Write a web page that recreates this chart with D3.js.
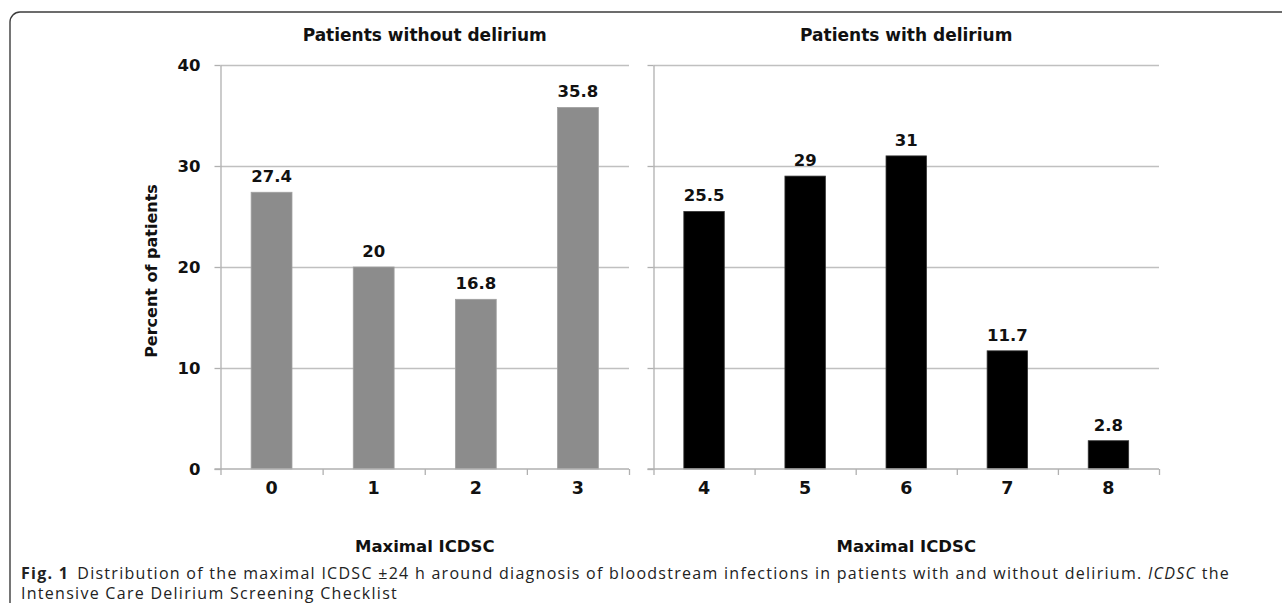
<!DOCTYPE html>
<html>
<head>
<meta charset="utf-8">
<script src="https://cdn.jsdelivr.net/npm/d3@7"></script>
<style>
  body { margin: 0; background: #fff; }
  svg { display: block; }
</style>
</head>
<body>
<script>
"use strict";
var svg_width = 1282;
var svg_height = 603;

// ---data
var without_categories = ["0", "1", "2", "3"];
var without_values = [27.4, 20, 16.8, 35.8];
var with_categories = ["4", "5", "6", "7", "8"];
var with_values = [25.5, 29, 31, 11.7, 2.8];
var y_ticks = [0, 10, 20, 30, 40];
var panel_titles = ["Patients without delirium", "Patients with delirium"];
var x_title = "Maximal ICDSC";
var y_title = "Percent of patients";

var svg = d3.select("body")
    .append("svg")
    .attr("width", svg_width)
    .attr("height", svg_height);

// ---frame with rounded top-left corner, runs off the right and bottom edges
svg.append("path")
    .attr("d", "M10,640 V22 A10,10 0 0 1 20,12 H1300")
    .attr("fill", "none")
    .attr("stroke", "#3c3c3c")
    .attr("stroke-width", 1.4);

var yscale = d3.scaleLinear()
    .domain([0, 40])
    .range([469, 65]);

var label_font = "'DejaVu Sans', sans-serif";

function renderPanel(cats, vals, x0, x1, bar_color, title, show_y_labels)
{
    var g = svg.append("g");
    var xscale = d3.scaleBand()
        .domain(cats)
        .range([x0, x1])
        .paddingInner(0.6)
        .paddingOuter(0.3);
    var xedges = d3.scaleLinear()
        .domain([0, cats.length])
        .range([x0, x1]);

    // gridlines
    g.append("g")
        .attr("transform", "translate(" + x0 + ",0)")
        .call(d3.axisLeft(yscale).tickValues(y_ticks.slice(1)).tickSize(-(x1 - x0)).tickFormat(""))
        .call(function(s) { s.select(".domain").remove(); })
        .selectAll("line")
        .attr("stroke", "#c0c0c0")
        .attr("stroke-width", 1.3);

    // y axis with outside ticks
    var yaxis = g.append("g")
        .attr("transform", "translate(" + x0 + ",0)")
        .call(d3.axisLeft(yscale).tickValues(y_ticks).tickSize(6).tickSizeOuter(0)
            .tickFormat(show_y_labels ? d3.format("d") : ""));
    yaxis.select(".domain").attr("stroke", "#b0b0b0").attr("stroke-width", 1.3);
    yaxis.selectAll(".tick line").attr("stroke", "#b0b0b0").attr("stroke-width", 1.3);
    yaxis.selectAll(".tick text")
        .attr("x", -20)
        .attr("dy", "0.36em")
        .style("font-family", label_font)
        .style("font-weight", "bold")
        .style("font-size", "16.5px")
        .attr("fill", "#111");

    // bars
    g.selectAll("rect.bar")
        .data(vals)
        .enter()
        .append("rect")
        .attr("class", "bar")
        .attr("x", function(d, i) { return xscale(cats[i]); })
        .attr("y", function(d) { return yscale(d); })
        .attr("width", xscale.bandwidth())
        .attr("height", function(d) { return yscale(0) - yscale(d); })
        .attr("fill", bar_color)
        .attr("stroke", bar_color == "#000" ? "#333" : "#a0a0a0")
        .attr("stroke-width", 0.8);

    // value labels
    g.selectAll("text.value")
        .data(vals)
        .enter()
        .append("text")
        .attr("class", "value")
        .attr("x", function(d, i) { return xscale(cats[i]) + xscale.bandwidth() / 2; })
        .attr("y", function(d) { return yscale(d) - 10; })
        .attr("text-anchor", "middle")
        .style("font-family", label_font)
        .style("font-weight", "bold")
        .style("font-size", "16.5px")
        .attr("fill", "#111")
        .text(function(d) { return d; });

    // x axis: line + boundary ticks
    var xaxis = g.append("g")
        .attr("transform", "translate(0," + yscale(0) + ")")
        .call(d3.axisBottom(xedges).ticks(cats.length).tickSize(6).tickSizeOuter(0).tickFormat(""));
    xaxis.select(".domain").attr("stroke", "#b0b0b0").attr("stroke-width", 1.3)
        .attr("d", "M" + (x0 - 6) + ",0H" + x1);
    xaxis.selectAll(".tick line").attr("stroke", "#b0b0b0").attr("stroke-width", 1.3);

    // category labels
    var xlabels = g.append("g")
        .attr("transform", "translate(0," + yscale(0) + ")")
        .call(d3.axisBottom(xscale).tickSize(0));
    xlabels.select(".domain").remove();
    xlabels.selectAll(".tick text")
        .attr("y", 25)
        .attr("dy", 0)
        .style("font-family", label_font)
        .style("font-weight", "bold")
        .style("font-size", "17.5px")
        .attr("fill", "#111");

    // panel title
    g.append("text")
        .attr("x", (x0 + x1) / 2)
        .attr("y", 41)
        .attr("text-anchor", "middle")
        .style("font-family", label_font)
        .style("font-weight", "bold")
        .style("font-size", "17px")
        .attr("fill", "#111")
        .text(title);

    // x title
    g.append("text")
        .attr("x", (x0 + x1) / 2)
        .attr("y", 552)
        .attr("text-anchor", "middle")
        .style("font-family", label_font)
        .style("font-weight", "bold")
        .style("font-size", "16.5px")
        .attr("fill", "#111")
        .text(x_title);
}

renderPanel(without_categories, without_values, 220.5, 629, "#8c8c8c", panel_titles[0], true);
renderPanel(with_categories, with_values, 653.5, 1159, "#000", panel_titles[1], false);

// y title
svg.append("text")
    .attr("transform", "translate(157,271) rotate(-90)")
    .attr("text-anchor", "middle")
    .style("font-family", label_font)
    .style("font-weight", "bold")
    .style("font-size", "16px")
    .attr("fill", "#111")
    .text(y_title);

// caption
var cap_font = "'Open Sans', 'Noto Sans', sans-serif";
var cap1 = svg.append("text")
    .attr("x", 21)
    .attr("y", 579)
    .style("font-family", cap_font)
    .style("font-size", "16px")
    .attr("fill", "#222");
cap1.append("tspan").style("font-weight", "bold").text("Fig. 1");
cap1.append("tspan").attr("dx", 8).text("Distribution of the maximal ICDSC \u00b124 h around diagnosis of bloodstream infections in patients with and without delirium. ");
cap1.append("tspan").style("font-style", "italic").text("ICDSC");
cap1.append("tspan").text(" the");

var cap2 = svg.append("text")
    .attr("x", 21)
    .attr("y", 599)
    .style("font-family", cap_font)
    .style("font-size", "16px")
    .attr("fill", "#222")
    .text("Intensive Care Delirium Screening Checklist");

// ---adjust letter spacing so line 1 ends where it does in the figure
var len = cap1.node().getComputedTextLength();
var n_chars = cap1.text().length;
var ls = (1222 - 21 - len) / n_chars;
cap1.style("letter-spacing", ls + "px");
cap2.style("letter-spacing", ls + "px");
</script>
</body>
</html>
